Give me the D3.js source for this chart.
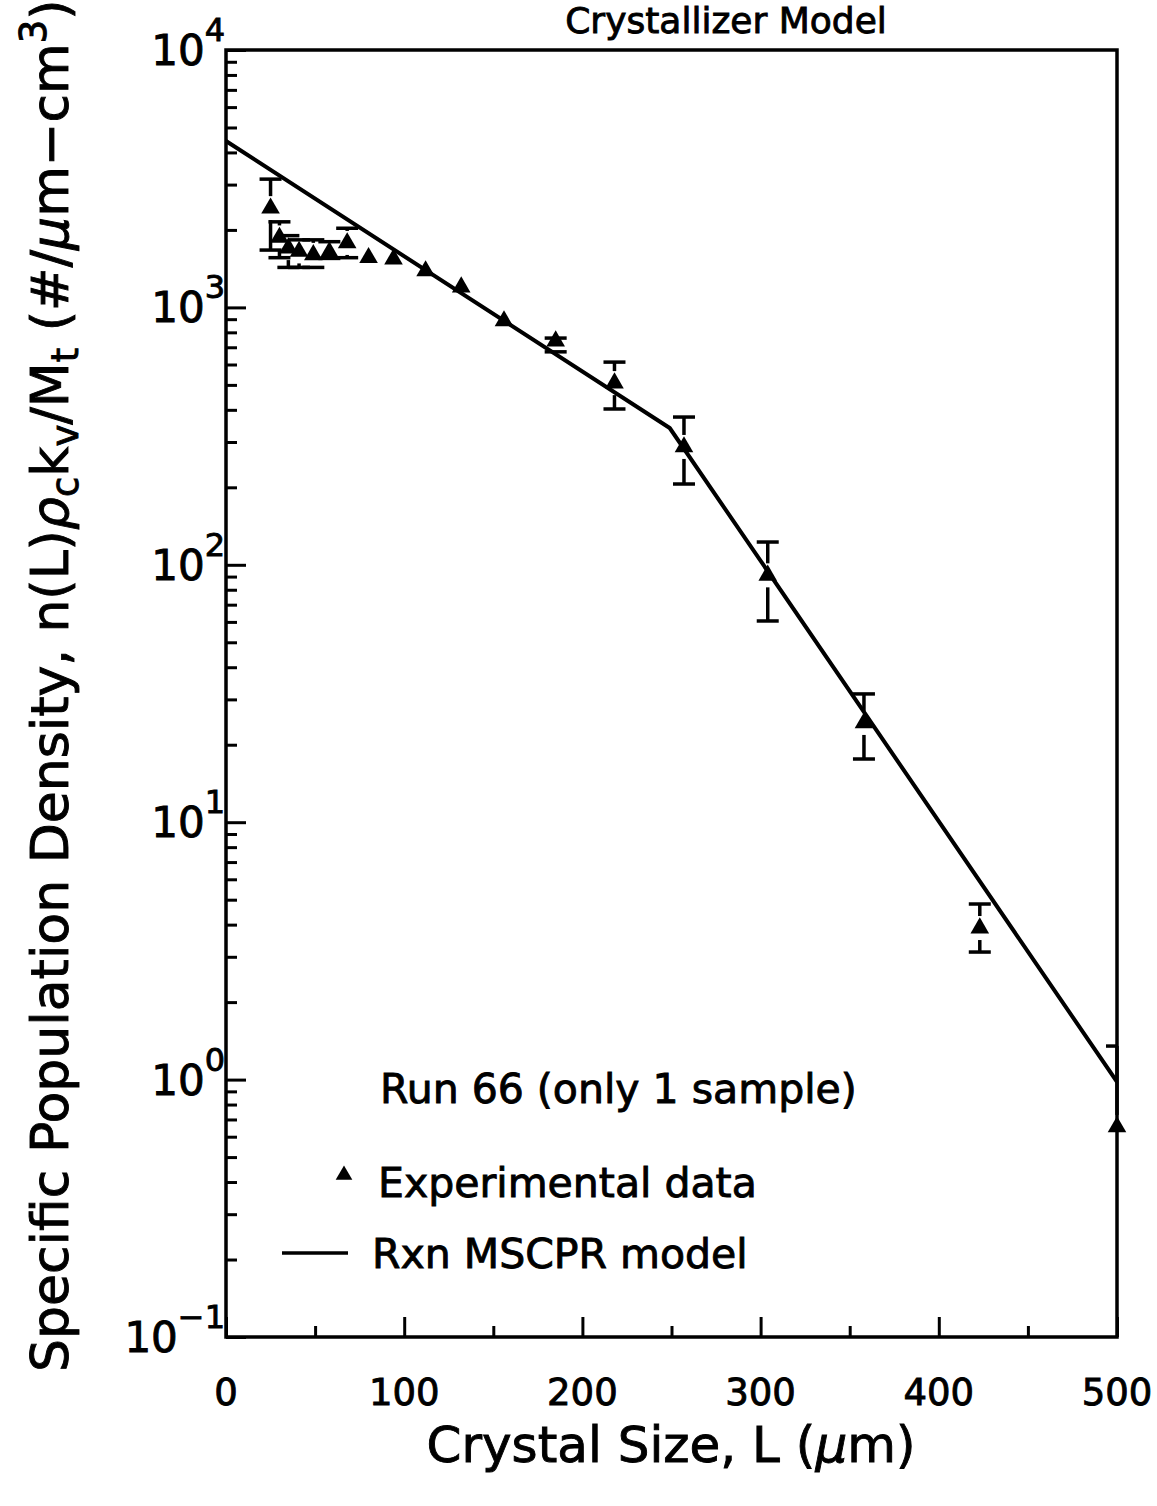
<!DOCTYPE html>
<html>
<head>
<meta charset="utf-8">
<script src="https://cdn.jsdelivr.net/npm/d3@7"></script>
<style>
  html, body { margin: 0; padding: 0; background: #fff; }
  svg { display: block; }
  text { font-family: "DejaVu Sans", sans-serif; fill: #000; stroke: #000; stroke-width: 0.9; }
</style>
</head>
<body>
<svg id="chart" width="1157" height="1506"></svg>
<script>
// Experimental population density (Run 66) with error limits
const sizeL   = [25, 30, 35, 41, 49, 58, 68, 80, 94, 112, 132, 156, 185, 218, 257, 304, 358, 423, 500];
const density = [2430, 1870, 1700, 1650, 1600, 1640, 1780, 1560, 1540, 1385, 1200, 886, 740, 508, 287, 91, 24.3, 3.88, 0.655];
const errHigh = [3150, 2150, 1900, 1830, 1830, 1800, 2030, null, null, null, null, null, 760, 613, 375, 122.6, 31.5, 4.81, 1.35];
const errLow  = [1670, 1560, 1430, 1430, 1430, 1550, 1560, null, null, null, null, null, 672, 403, 206, 60.5, 17.6, 3.13, null];

// Rxn MSCPR model curve (two exponential regimes)
const modelL = [0, 249, 500];
const modelN = [4430, 340, 0.98];

// Axis ticks
const xMajorTicks = [0, 100, 200, 300, 400, 500];
const xMinorTicks = [50, 150, 250, 350, 450];
const yDecades = [0.1, 1, 10, 100, 1000, 10000];
const yExponents = ["\u22121", "0", "1", "2", "3", "4"];

const svg = d3.select("#chart");
const plotLeft = 226, plotRight = 1117, plotTop = 50, plotBottom = 1337;

const x = d3.scaleLinear().domain([0, 500]).range([plotLeft, plotRight]);
const y = d3.scaleLog().domain([0.1, 10000]).range([plotBottom, plotTop]);

svg.append("rect").attr("width", 1157).attr("height", 1506).attr("fill", "#fff");

svg.append("defs").append("clipPath").attr("id", "plotclip")
  .append("rect").attr("x", plotLeft).attr("y", plotTop)
  .attr("width", plotRight - plotLeft).attr("height", plotBottom - plotTop);

// Y minor ticks (2..9 in each decade)
const yMinor = [];
for (let d = 0; d < yDecades.length - 1; d++) {
  for (let k = 2; k <= 9; k++) yMinor.push(yDecades[d] * k);
}
const axisStyle = g => {
  g.select(".domain").remove();
  g.selectAll("line").attr("stroke", "#000").attr("stroke-width", 3);
  g.selectAll("text").remove();
};
svg.append("g").attr("transform", `translate(${plotLeft},0)`)
  .call(d3.axisRight(y).tickValues(yMinor).tickSize(11)).call(axisStyle);
svg.append("g").attr("transform", `translate(${plotLeft},0)`)
  .call(d3.axisRight(y).tickValues(yDecades).tickSize(20)).call(axisStyle);

// X ticks (inside, pointing up)
svg.append("g").attr("transform", `translate(0,${plotBottom})`)
  .call(d3.axisTop(x).tickValues(xMinorTicks).tickSize(11)).call(axisStyle);
svg.append("g").attr("transform", `translate(0,${plotBottom})`)
  .call(d3.axisTop(x).tickValues(xMajorTicks).tickSize(20)).call(axisStyle);

// Plot frame
svg.append("rect")
  .attr("x", plotLeft).attr("y", plotTop)
  .attr("width", plotRight - plotLeft).attr("height", plotBottom - plotTop)
  .attr("fill", "none").attr("stroke", "#000").attr("stroke-width", 3.5);

// X tick labels
svg.append("g").selectAll("text").data(xMajorTicks).join("text")
  .attr("x", d => x(d)).attr("y", 1405)
  .attr("text-anchor", "middle").attr("font-size", 37)
  .text(d => d);

// Y tick labels: 10 with superscript exponent
const yLab = svg.append("g").selectAll("text").data(yDecades).join("text")
  .attr("x", 225).attr("y", d => y(d) + 15)
  .attr("text-anchor", "end").attr("font-size", 42);
yLab.append("tspan").text("10");
yLab.append("tspan").attr("dy", -24).attr("font-size", 32)
  .text((d, i) => yExponents[i]);

// Model line
const line = d3.line().x((d, i) => x(modelL[i])).y(d => y(d));
svg.append("path").datum(modelN)
  .attr("clip-path", "url(#plotclip)")
  .attr("d", line).attr("fill", "none")
  .attr("stroke", "#000").attr("stroke-width", 4).attr("stroke-linejoin", "round");

// Error bars
const pts = sizeL.map((L, i) => ({ L, n: density[i], hi: errHigh[i], lo: errLow[i] }));
const eb = svg.append("g").attr("stroke", "#000").attr("stroke-width", 3.5);
const capW = 11;
pts.forEach(p => {
  const cx = x(p.L), cy = y(p.n);
  if (p.hi != null) {
    const yh = y(p.hi);
    eb.append("line").attr("x1", cx - capW).attr("x2", Math.min(cx + capW, plotRight)).attr("y1", yh).attr("y2", yh);
    if (cy - 12 > yh) eb.append("line").attr("x1", cx).attr("x2", cx).attr("y1", yh).attr("y2", cy - 12);
  }
  if (p.lo != null) {
    const yl = y(p.lo);
    eb.append("line").attr("x1", cx - capW).attr("x2", cx + capW).attr("y1", yl).attr("y2", yl);
    if (yl > cy + 12) eb.append("line").attr("x1", cx).attr("x2", cx).attr("y1", cy + 12).attr("y2", yl);
  }
});

// Experimental data markers
const tri = d3.symbol().type(d3.symbolTriangle).size(150);
svg.append("g").selectAll("path").data(pts).join("path")
  .attr("d", tri)
  .attr("transform", d => `translate(${x(d.L)},${y(d.n)})`)
  .attr("fill", "#000");

// Legend and annotation
svg.append("text").attr("x", 380).attr("y", 1103).attr("font-size", 41)
  .text("Run 66 (only 1 sample)");
svg.append("path").attr("d", d3.symbol().type(d3.symbolTriangle).size(120))
  .attr("transform", "translate(344,1175)").attr("fill", "#000");
svg.append("text").attr("x", 378).attr("y", 1197).attr("font-size", 41)
  .text("Experimental data");
svg.append("line").attr("x1", 282).attr("x2", 348).attr("y1", 1253).attr("y2", 1253)
  .attr("stroke", "#000").attr("stroke-width", 3.5);
svg.append("text").attr("x", 372).attr("y", 1268).attr("font-size", 41)
  .text("Rxn MSCPR model");

// Title
svg.append("text").attr("x", 726).attr("y", 33).attr("text-anchor", "middle")
  .attr("font-size", 36).text("Crystallizer Model");

// X axis title
const xt = svg.append("text").attr("x", 671).attr("y", 1462)
  .attr("text-anchor", "middle").attr("font-size", 50);
xt.append("tspan").text("Crystal Size, L (");
xt.append("tspan").attr("font-style", "italic").text("\u03bc");
xt.append("tspan").text("m)");

// Y axis title (rotated)
const yt = svg.append("text").attr("transform", "translate(68,1372) rotate(-90)")
  .attr("font-size", 52);
yt.append("tspan").text("Specific Population Density, n(L)");
yt.append("tspan").attr("font-style", "italic").text("\u03c1");
yt.append("tspan").attr("font-size", 37).attr("dy", 10).text("c");
yt.append("tspan").attr("dy", -10).text("k");
yt.append("tspan").attr("font-size", 37).attr("dy", 10).text("v");
yt.append("tspan").attr("dy", -10).text("/M");
yt.append("tspan").attr("font-size", 37).attr("dy", 10).text("t");
yt.append("tspan").attr("dy", -10).text(" (#/");
yt.append("tspan").attr("font-style", "italic").text("\u03bc");
yt.append("tspan").text("m\u2212cm");
yt.append("tspan").attr("font-size", 37).attr("dy", -22).text("3");
yt.append("tspan").attr("dy", 22).text(")");
</script>
</body>
</html>
